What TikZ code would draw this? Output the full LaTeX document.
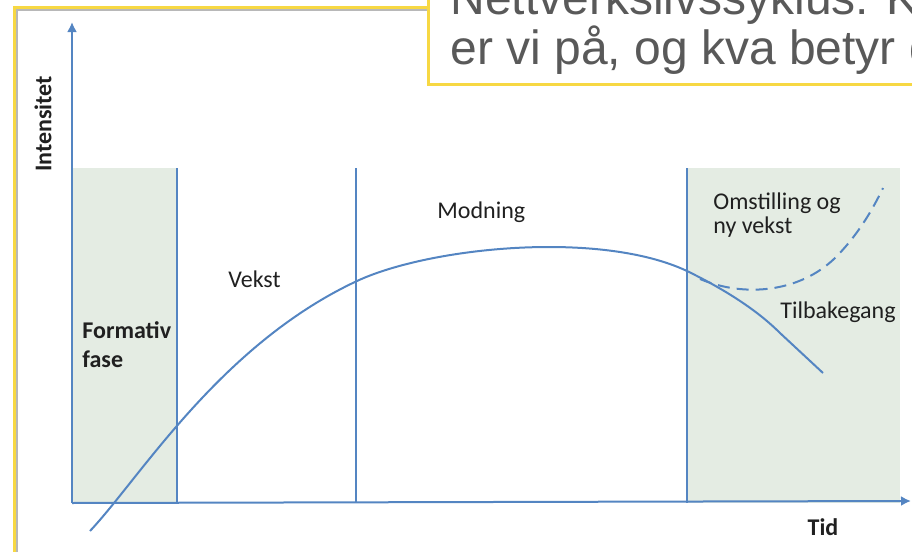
\documentclass[tikz,border=0pt]{standalone}
\usepackage{fontspec}
\setmainfont{Carlito}
\newfontfamily\boxfont{Liberation Sans}
\usetikzlibrary{arrows.meta}
\definecolor{blu}{HTML}{5485C2}
\definecolor{ylw}{HTML}{F7D843}
\definecolor{phase}{HTML}{E4ECE3}
\definecolor{ink}{HTML}{202020}
\definecolor{ink2}{HTML}{595959}
\tikzset{
  ax/.style={draw=blu,line width=1pt,-{Latex[length=5pt,width=5pt]}},
  sep/.style={draw=blu,line width=1pt},
  frm/.style={draw=ylw,line width=1.5pt},
  lab/.style={font=\fontsize{12}{14}\selectfont,text=ink,inner sep=0pt,align=left},
  labb/.style={lab,font=\fontsize{12}{14}\selectfont\bfseries},
  ttl/.style={font=\boxfont\fontsize{24}{25}\selectfont,text=ink2,inner sep=0pt,align=left},
}
\begin{document}
\begin{tikzpicture}[x=0.5pt,y=-0.5pt]
\useasboundingbox (0,0) rectangle (912,552);
\clip (0,0) rectangle (912,552);
% slide frame
\draw[frm] (14,560) -- (14,7) -- (440,7);
\draw[black!28,line width=0.6pt] (17,560) -- (17,10) -- (440,10);
% shaded phases
\fill[phase] (72,168) rectangle (177,503);
\fill[phase] (687,168) rectangle (900,503);
\foreach \x in {177,356,687} {\draw[sep] (\x,168) -- (\x,503);}
% axes
\draw[ax] (72,503) -- (72,22);
\draw[ax] (72,503) -- (911,501);
% life cycle curve
\draw[sep] (90,531) .. controls (140,478) and (220,345) .. (357,281)
  .. controls (430,247) and (600,230) .. (687,271)
  .. controls (730,292) and (760,313) .. (780,333) -- (823,373);
\draw[sep,dash pattern=on 6pt off 3.5pt] (700,279) .. controls (745,298) and (800,292) .. (835,258)
  .. controls (855,238) and (870,215) .. (883,188);
% labels
\node[labb,rotate=90] (int) at (43,124) {Intensitet};
\node[labb,anchor=base west,font=\fontsize{12}{14.5}\selectfont\bfseries] (form) at (82,367) {Formativ\\fase};
\node[lab,anchor=base west] (vekst) at (228,287) {Vekst};
\node[lab,anchor=base west] (modn) at (437,218) {Modning};
\node[lab,anchor=base west,font=\fontsize{12}{11.7}\selectfont] (omst) at (713,233) {Omstilling og\\ny vekst};
\node[lab,anchor=base west] (tilb) at (780,318) {Tilbakegang};
\node[labb,anchor=base] (tid) at (823,535) {Tid};
% title box
\draw[frm,fill=white] (428,-10) rectangle (930,84);
\node[ttl,anchor=base west] (ttl) at (450,64) {Nettverkslivssyklus: Kvar\\er vi på, og kva betyr det?};
\end{tikzpicture}
\end{document}
